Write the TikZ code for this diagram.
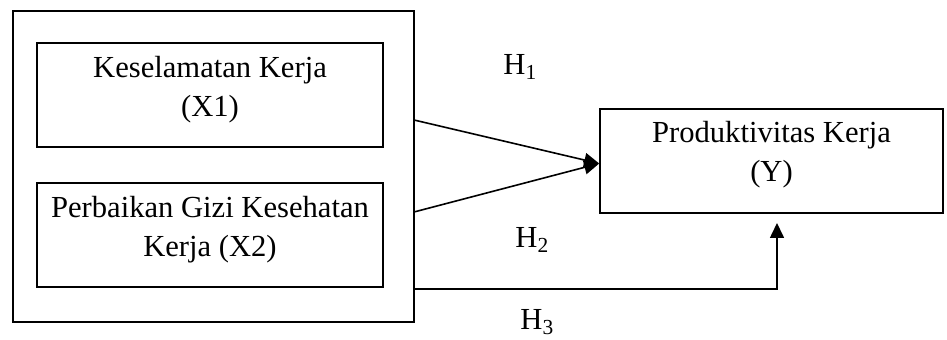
\documentclass[tikz,border=0pt]{standalone}
\usepackage{fontspec}
\setmainfont{Liberation Serif}
\usetikzlibrary{arrows.meta,calc}
\begin{document}
\begin{tikzpicture}[x=0.5pt,y=-0.5pt,
  box/.style={draw,line width=0.8pt,inner sep=0pt,rectangle},
  txt/.style={align=center,inner sep=0pt,font=\fontsize{15.3}{19.5}\selectfont},
  hlab/.style={anchor=base west,inner sep=0pt,font=\fontsize{15.3}{19.5}\selectfont},
  conn/.style={line width=0.8pt,-{Triangle[length=7.5pt,width=7pt]}}]
\useasboundingbox (0,0) rectangle (947,340);
\node[box,minimum width=200.5pt,minimum height=155.5pt] (outer) at (213.5,166.5) {};
\node[box,minimum width=173pt,minimum height=52pt] (x1) at (210,95) {};
\node[box,minimum width=173pt,minimum height=52pt] (x2) at (210,235) {};
\node[box,minimum width=171.5pt,minimum height=52pt] (y) at (771.5,161) {};
\node[txt] (x1t) at ($(x1.center)+(0,-5)$) {Keselamatan Kerja\\(X1)};
\node[txt] (x2t) at ($(x2.center)+(0,-5)$) {Perbaikan Gizi Kesehatan\\Kerja (X2)};
\node[txt] (yt) at ($(y.center)+(0,-6)$) {Produktivitas Kerja\\(Y)};
\coordinate (a1) at (414,120);
\coordinate (a2) at (414,212);
\coordinate (a3) at (414,289);
\coordinate (tip) at ($(y.west)+(0,2.5)$);
\coordinate (t3) at (777,223);
\draw[conn] (a1) -- (tip);
\draw[conn] (a2) -- (tip);
\draw[conn] (a3) -| (t3);
\node[hlab] (h1) at (503,75) {H\textsubscript{1}};
\node[hlab] (h2) at (515,248) {H\textsubscript{2}};
\node[hlab] (h3) at (520,330) {H\textsubscript{3}};
\end{tikzpicture}
\end{document}
